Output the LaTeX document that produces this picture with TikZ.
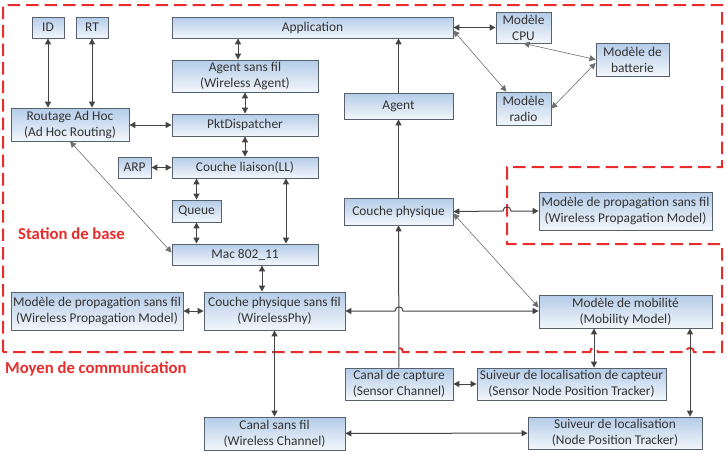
\documentclass[tikz,border=0pt]{standalone}
\usepackage{fontspec}
\setmainfont{Carlito}
\usetikzlibrary{arrows.meta,calc}

\definecolor{boxtop}{RGB}{180,204,232}
\definecolor{boxbot}{RGB}{242,246,251}
\definecolor{boxline}{RGB}{88,98,110}
\definecolor{linkgray}{RGB}{68,68,68}
\definecolor{thingray}{RGB}{110,110,110}
\definecolor{zonered}{RGB}{232,44,44}

\begin{document}
\begin{tikzpicture}[
    x=1pt, y=-1pt,
    box/.style={draw=boxline, line width=0.8pt, top color=boxtop,
      bottom color=boxbot, align=center, inner sep=0pt,
      font=\fontsize{13.4}{16}\selectfont, text=black!80},
    link/.style={{Triangle[length=6pt,width=6pt]}-{Triangle[length=6pt,width=6pt]},
      draw=linkgray, line width=1pt},
    linkto/.style={-{Triangle[length=6pt,width=6pt]}, draw=linkgray, line width=1pt},
    thinlink/.style={{Triangle[length=6pt,width=6pt]}-{Triangle[length=6pt,width=6pt]},
      draw=thingray, line width=0.6pt},
    zone/.style={draw=zonered, line width=2pt, dash pattern=on 12.5pt off 6pt},
    zonelabel/.style={text=zonered, font=\fontsize{16.7}{18}\selectfont\bfseries,
      anchor=west, inner sep=0pt}
  ]
  \useasboundingbox (0,0) rectangle (727,453);

  % zones
  \draw[zone] (3,352) -- (3,5) -- (722,5) -- (722,167) -- (507,167)
    -- (507,244) -- (722,244) -- (722,352) -- (694,352)
    .. controls (694,346.5) and (686,346.5) .. (686,352) -- (598,352)
    .. controls (598,346.5) and (590,346.5) .. (590,352) -- (403,352)
    .. controls (403,346.5) and (395,346.5) .. (395,352) -- cycle;
  \node[zonelabel] (station) at (18,234) {Station de base};
  \node[zonelabel] (moyen) at (5,369) {Moyen de communication};

  % station de base
  \node[box, minimum width=32, minimum height=21] (id) at (48,27.5) {ID};
  \node[box, minimum width=32, minimum height=21] (rt) at (92,27.5) {RT};
  \node[box, minimum width=281, minimum height=21] (app) at (312.5,27.5) {Application};
  \node[box, minimum width=146, minimum height=32] (agentsf) at (245,76)
    {Agent sans fil\\(Wireless Agent)};
  \node[box, minimum width=118, minimum height=33] (routage) at (70,124.5)
    {Routage Ad Hoc\\(Ad Hoc Routing)};
  \node[box, minimum width=146, minimum height=22] (pkt) at (245,125) {PktDispatcher};
  \node[box, minimum width=33, minimum height=21] (arp) at (134.5,167.5) {ARP};
  \node[box, minimum width=146, minimum height=21] (ll) at (245,167.5) {Couche liaison(LL)};
  \node[box, minimum width=49, minimum height=22] (queue) at (196.5,211) {Queue};
  \node[box, minimum width=146, minimum height=21] (mac) at (245,254.5) {Mac 802\_11};
  \node[box, minimum width=172, minimum height=38] (propL) at (97,311)
    {Modèle de propagation sans fil\\(Wireless Propagation Model)};
  \node[box, minimum width=141, minimum height=38] (phyw) at (274.5,311)
    {Couche physique sans fil\\(WirelessPhy)};
  \node[box, minimum width=55, minimum height=31] (cpu) at (523.5,27.5) {Modèle\\CPU};
  \node[box, minimum width=73, minimum height=33] (batt) at (632.5,59.5)
    {Modèle de\\batterie};
  \node[box, minimum width=55, minimum height=33] (radio) at (523.5,108.5) {Modèle\\radio};
  \node[box, minimum width=109, minimum height=26] (agent) at (398.5,106) {Agent};
  \node[box, minimum width=109, minimum height=27] (cphys) at (398.5,211.5)
    {Couche physique};
  \node[box, minimum width=173, minimum height=38] (propR) at (625.5,211)
    {Modèle de propagation sans fil\\(Wireless Propagation Model)};
  \node[box, minimum width=173, minimum height=33] (mob) at (625.5,311.5)
    {Modèle de mobilité\\(Mobility Model)};

  % moyen de communication
  \node[box, minimum width=108, minimum height=32] (capture) at (399,384)
    {Canal de capture\\(Sensor Channel)};
  \node[box, minimum width=189, minimum height=32] (suivcap) at (571.5,384)
    {Suiveur de localisation de capteur\\(Sensor Node Position Tracker)};
  \node[box, minimum width=141, minimum height=33] (canalsf) at (274.5,433.5)
    {Canal sans fil\\(Wireless Channel)};
  \node[box, minimum width=174, minimum height=32] (suiv) at (615,433)
    {Suiveur de localisation\\(Node Position Tracker)};

  \coordinate (hopphy) at (399,311);
  \coordinate (hopprop) at (507,211);

  \draw[link] (id) -- (id |- routage.north);
  \draw[link] (rt) -- (rt |- routage.north);
  \draw[link] ([xshift=-7pt]agentsf.north) -- ([xshift=-7pt]agentsf.north |- app.south);
  \draw[link] (agentsf) -- (pkt);
  \draw[link] (routage.east |- pkt.west) -- (pkt.west);
  \draw[link] (pkt) -- (ll);
  \draw[link] (arp) -- (ll);
  \draw[link] (queue.north) -- (queue.north |- ll.south);
  \draw[link] (queue.south) -- (queue.south |- mac.north);
  \draw[link] ([xshift=41pt]ll.south) -- ([xshift=41pt]mac.north);
  \draw[link] ([xshift=17pt]mac.south) -- ([xshift=17pt]mac.south |- phyw.north);
  \draw[link] (propL) -- (phyw);
  \draw[link] (phyw) -- (canalsf);
  \draw[thinlink] (routage.south) -- ([yshift=2pt]mac.west);
  \draw[link] (phyw.east) -- ($(hopphy)+(-4,0)$)
    .. controls ($(hopphy)+(-4,-5.5)$) and ($(hopphy)+(4,-5.5)$) .. ($(hopphy)+(4,0)$)
    -- (mob.west |- hopphy);
  \draw[linkto] (capture) -- (cphys);
  \draw[linkto] (cphys) -- (agent);
  \draw[linkto] (agent.north) -- (agent.north |- app.south);
  \draw[link] (app.east) -- (cpu.west);
  \draw[thinlink] ([yshift=-3pt]app.east) -- ([xshift=-17pt]radio.north);
  \draw[thinlink] (cpu.south) -- (batt.west);
  \draw[thinlink] (radio.east) -- ([yshift=-3.5pt]batt.west);
  \draw[link] (cphys.east) -- ($(hopprop)+(-4,0)$)
    .. controls ($(hopprop)+(-4,-5.5)$) and ($(hopprop)+(4,-5.5)$) .. ($(hopprop)+(4,0)$)
    -- (propR.west |- hopprop);
  \draw[thinlink] ([yshift=-2pt]cphys.east) -- ([yshift=4pt]mob.west);
  \draw[link] ([xshift=-31.5pt]mob.south) -- ([xshift=-31.5pt]mob.south |- suivcap.north);
  \draw[link] ([xshift=64.5pt]mob.south) -- ([xshift=64.5pt]mob.south |- suiv.north);
  \draw[link] (capture) -- (suivcap);
  \draw[link] (canalsf) -- (suiv);
\end{tikzpicture}
\end{document}
